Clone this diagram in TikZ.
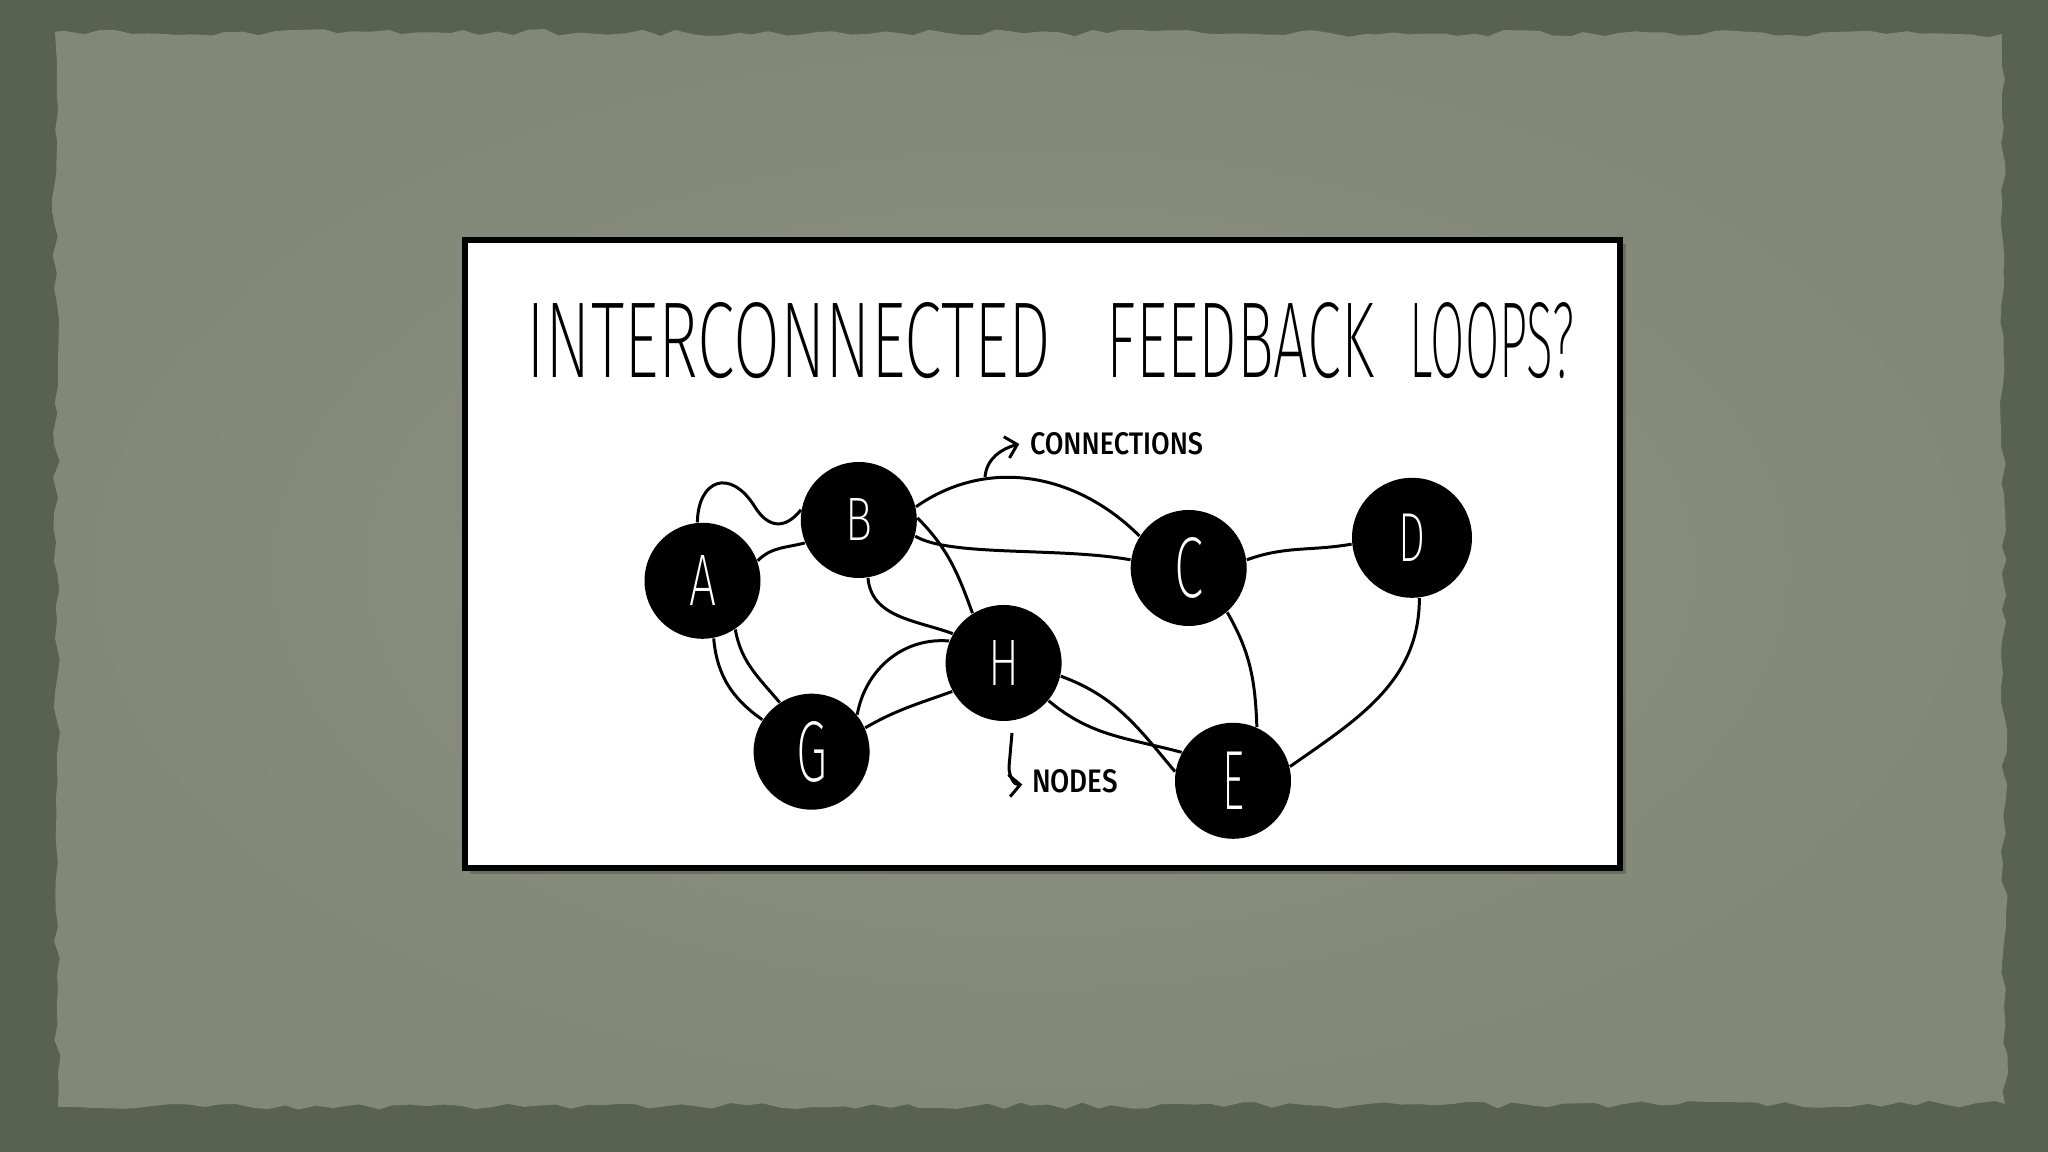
\documentclass[tikz,border=0pt]{standalone}
\usepackage{fontspec}
\usepackage{graphicx}
\usetikzlibrary{decorations.pathmorphing, arrows.meta}

\IfFontExistsTF{Fira Sans ExtraLight}{\newfontfamily\thinhand{Fira Sans ExtraLight}}{%
  \IfFontExistsTF{Fira Sans Light}{\newfontfamily\thinhand{Fira Sans Light}}{%
    \newfontfamily\thinhand{Fira Sans}}}
\IfFontExistsTF{Fira Sans Medium}{\newfontfamily\markerhand{Fira Sans Medium}}{%
  \newfontfamily\markerhand{Fira Sans}}

\definecolor{wallgreen}{HTML}{58624F}
\definecolor{paperout}{HTML}{828878}
\definecolor{paperin}{HTML}{8D9283}

% letter squeezed into a w x h box (cm)
\newcommand{\blobletter}[3]{\resizebox{#1cm}{#2cm}{#3}}

\begin{document}
\begin{tikzpicture}[
    blob/.style={circle, fill=black, minimum size=1.16cm, inner sep=0pt, text=white, font=\thinhand},
    link/.style={line width=0.85pt, black},
    note/.style={inner sep=0pt, font=\markerhand},
    pointer/.style={line width=0.85pt, -{Straight Barb[length=1.1mm, width=2.2mm]}},
    headline/.style={inner sep=0pt, font=\thinhand}
  ]
    \useasboundingbox (0,0) rectangle (20.48,11.52);
    \pgfmathsetseed{11}

    % wall and torn paper
    \fill[wallgreen] (0,0) rectangle (20.48,11.52);
    \shade[inner color=paperin, outer color=paperout,
      decorate, decoration={random steps, segment length=1.6mm, amplitude=0.35mm}]
      (0.58,0.45) -- (20.05,0.48) -- (20.02,11.18) -- (0.55,11.2) -- cycle;

    % sheet with the drawing
    \fill[black, opacity=0.2] (4.70,2.78) rectangle (16.26,9.08);
    \draw[fill=white, line width=0.06cm] (4.647,2.84) rectangle (16.197,9.123);

    % title
    \node[headline] (w1) at (7.89,8.11) {\resizebox{5.24cm}{0.75cm}{INTERCONNECTED}};
    \node[headline] (w2) at (12.405,8.11) {\resizebox{2.67cm}{0.75cm}{FEEDBACK}};
    \node[headline] (w3) at (14.92,8.11) {\resizebox{1.64cm}{0.75cm}{LOOPS?}};

    % nodes
    \node[blob] (A) at (7.025,5.712) {\blobletter{0.27}{0.50}{A}};
    \node[blob] (B) at (8.588,6.320) {\blobletter{0.27}{0.42}{B}};
    \node[blob] (C) at (11.887,5.840) {\blobletter{0.29}{0.60}{C}};
    \node[blob, minimum size=1.2cm] (D) at (14.12,6.142) {\blobletter{0.27}{0.475}{D}};
    \node[blob] (E) at (12.33,3.712) {\blobletter{0.22}{0.575}{E}};
    \node[blob] (G) at (8.116,4.003) {\blobletter{0.31}{0.60}{G}};
    \node[blob] (H) at (10.036,4.890) {\blobletter{0.31}{0.45}{H}};

    % connections
    \draw[link] (A.95) .. controls (6.98,6.72) and (7.30,6.85) .. (7.55,6.45)
      .. controls (7.68,6.24) and (7.85,6.22) .. (B.170);
    \draw[link] (A.20) to[out=45,in=195] (B.203);
    \draw[link] (B.13) to[out=35,in=135] (C.147);
    \draw[link] (B.-16) .. controls (9.5,5.95) and (10.6,6.05) .. (C.172);
    \draw[link] (C.8) to[out=20,in=190] (D.186);
    \draw[link] (D.-83) to[out=-90,in=35] (E.14);
    \draw[link] (C.-49) to[out=-60,in=92] (E.66);
    \draw[link] (B.2) to[out=-45,in=110] (H.122);
    \draw[link] (B.-81) to[out=-85,in=160] (H.150);
    \draw[link] (G.39) to[out=80,in=175] (H.158);
    \draw[link] (G.24) to[out=30,in=200] (H.209);
    \draw[link] (A.-79) to[out=-85,in=145] (G.147);
    \draw[link] (A.-56) to[out=-80,in=130] (G.123);
    \draw[link] (H.-13) to[out=-20,in=130] (E.171);
    \draw[link] (H.-40) to[out=-40,in=165] (E.151);

    % labels
    \node[note] (conns) at (11.165,7.08) {\resizebox{1.73cm}{0.22cm}{CONNECTIONS}};
    \node[note] (nodelbl) at (10.75,3.705) {\resizebox{0.86cm}{0.23cm}{NODES}};
    \coordinate (conntail) at (9.85,6.75);
    \coordinate (nodetail) at (10.12,4.19);
    \draw[pointer] (conntail) to[out=85,in=195] ([xshift=-1mm]conns.west);
    \draw[pointer] (nodetail) -- (10.09,3.85) to[out=-90,in=185] ([xshift=-0.9mm,yshift=-0.3mm]nodelbl.west);
\end{tikzpicture}
\end{document}
